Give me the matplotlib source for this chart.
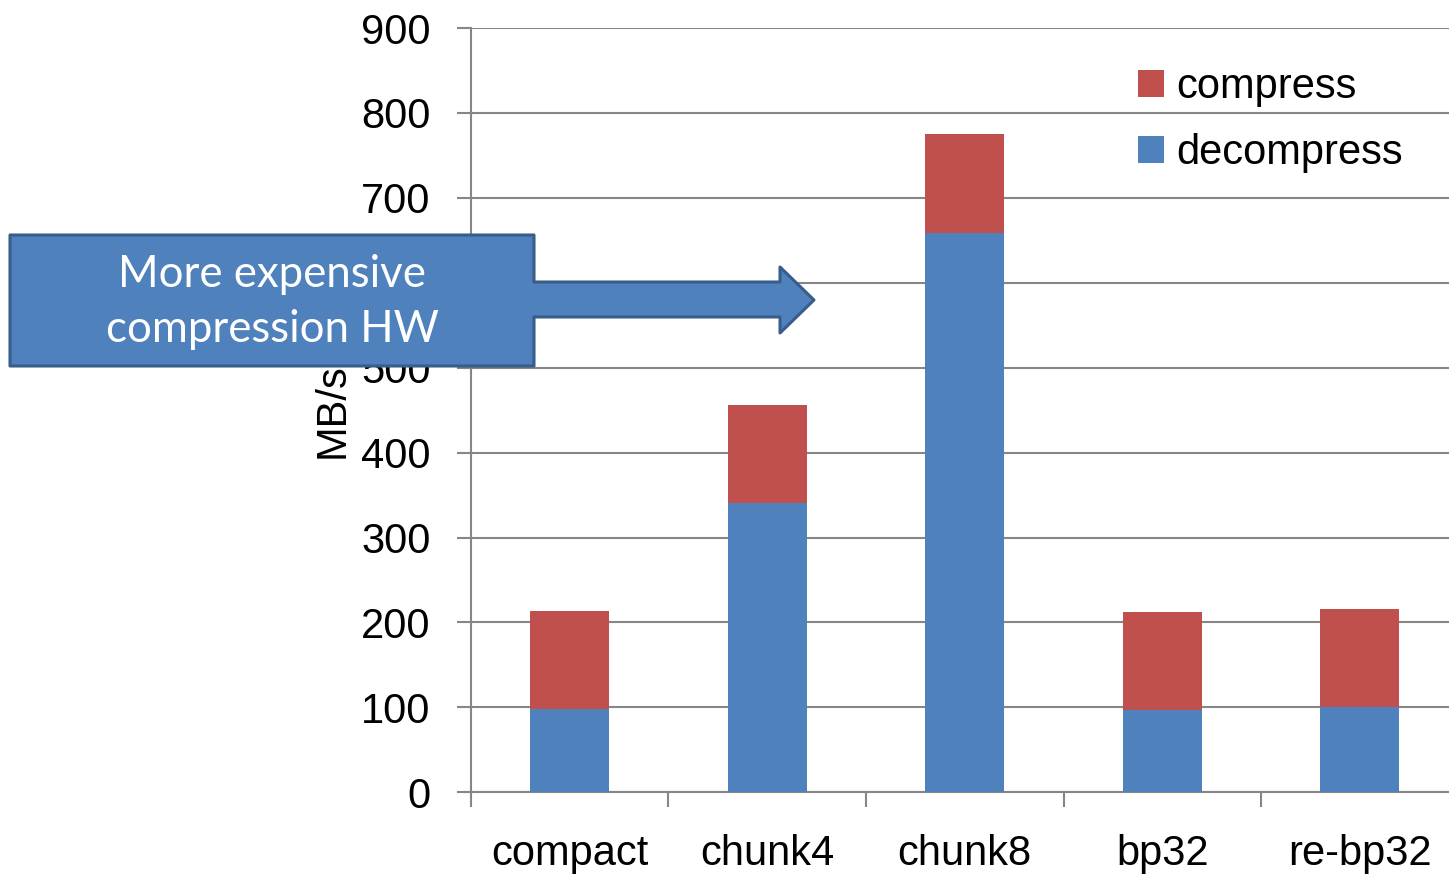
import matplotlib.pyplot as plt
from matplotlib.patches import Polygon
import numpy as np

plt.rcParams['font.family'] = ['Liberation Sans', 'DejaVu Sans']

# data
categories = ['compact', 'chunk4', 'chunk8', 'bp32', 're-bp32']
decompress = [98, 341, 659, 97, 100]
compress = [115, 115, 116, 115, 116]

BLUE = '#4F81BD'
RED = '#C0504D'
GRID = '#868686'

W, H = 1449, 875
fig = plt.figure(figsize=(W / 100, H / 100), dpi=100)
ax = fig.add_axes([470.7 / W, 82.7 / H, 988 / W, 764.3 / H])

x = np.arange(len(categories))
ax.bar(x, decompress, width=0.4, color=BLUE, label='decompress', zorder=3)
ax.bar(x, compress, width=0.4, bottom=decompress, color=RED, label='compress', zorder=3)

ax.set_xlim(-0.5, len(categories) - 0.5)
ax.set_ylim(0, 900)
ax.set_yticks(np.arange(0, 901, 100))
ax.yaxis.grid(True, color=GRID, lw=1.5, zorder=0)
ax.set_axisbelow(True)

for s in ['top', 'right']:
    ax.spines[s].set_visible(False)
for s in ['left', 'bottom']:
    ax.spines[s].set_color(GRID)
    ax.spines[s].set_linewidth(1.5)

ax.tick_params(axis='y', labelsize=30, length=10, width=1.5, color=GRID, pad=19)
ax.set_xticks(x)
ax.set_xticklabels(categories)
ax.tick_params(axis='x', which='major', labelsize=30, length=0, pad=30)
ax.set_xticks(np.arange(-0.5, len(categories), 1.0), minor=True)
ax.tick_params(axis='x', which='minor', length=11, width=1.5, color=GRID, direction='out')

ax.set_ylabel('MB/s', fontsize=30)
ax.yaxis.set_label_coords(-0.12, 0.5)

handles, labels = ax.get_legend_handles_labels()
ax.legend(handles[::-1], labels[::-1], loc='upper left',
          bbox_to_anchor=(1138 / W, 1 - 67 / H), bbox_transform=fig.transFigure,
          frameon=False, fontsize=30, handlelength=0.62, handleheight=0.62,
          handletextpad=0.31, labelspacing=0.62, borderpad=0, borderaxespad=0)

# callout box with arrow (pixel coords of the reference)
pts = [(10, 235), (534, 235), (534, 282), (780, 282), (780, 267), (814, 300),
       (780, 333), (780, 317), (534, 317), (534, 366), (10, 366)]
pts = [(px / W, 1 - py / H) for px, py in pts]
fig.patches.append(Polygon(pts, closed=True, facecolor=BLUE, edgecolor='#385D8A',
                           lw=2.2, joinstyle='round', transform=fig.transFigure, zorder=10))
fig.text(272 / W, 1 - 302 / H, 'More expensive\ncompression HW', color='white',
         fontsize=31.5, family='Lato', ha='center', va='center', linespacing=1.45, zorder=11)

fig.savefig('out.png', dpi=100)
